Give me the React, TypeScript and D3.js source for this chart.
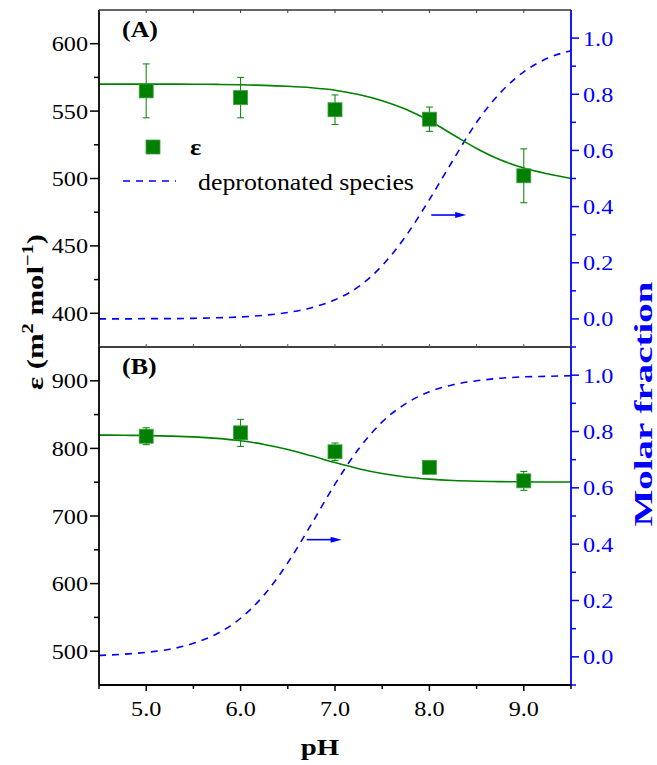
import React from "react";
import * as d3 from "d3";

// ---------- data ----------
const fitPH = [4.5, 4.75, 5.0, 5.25, 5.5, 5.75, 6.0, 6.25, 6.5, 6.75, 7.0, 7.25, 7.5, 7.75, 8.0, 8.25, 8.5, 8.75, 9.0, 9.25, 9.5];
const fitEpsA = [570.0, 570.0, 570.0, 570.0, 569.9, 569.8, 569.5, 569.1, 568.4, 567.3, 565.5, 562.3, 557.7, 551.3, 542.8, 532.5, 522.3, 513.9, 507.8, 503.5, 500.0];
const fracA = [0.0, 0.0, 0.001, 0.001, 0.002, 0.004, 0.007, 0.013, 0.023, 0.04, 0.068, 0.115, 0.19, 0.295, 0.425, 0.565, 0.7, 0.805, 0.88, 0.928, 0.955];
const fitEpsB = [819.7, 819.4, 819.0, 818.2, 817.0, 814.8, 811.3, 805.9, 798.4, 789.0, 779.0, 770.0, 762.8, 757.8, 754.6, 752.6, 751.5, 750.9, 750.5, 750.3, 750.2];
const fracB = [0.005, 0.009, 0.016, 0.027, 0.048, 0.082, 0.137, 0.22, 0.334, 0.471, 0.613, 0.738, 0.834, 0.899, 0.941, 0.966, 0.98, 0.989, 0.994, 0.996, 0.998];

const dataPH = [5, 6, 7, 8, 9];
const epsA = [565, 560, 551, 544, 502];
const errA = [20, 15, 11, 9, 20];
const epsB = [818, 823, 795, 772, 752];
const errB = [12.5, 20, 13, 0, 14];

const xTicks = [5, 6, 7, 8, 9];
const xMinor = [4.5, 5.5, 6.5, 7.5, 8.5, 9.5];
const yTicksA = [400, 450, 500, 550, 600];
const yMinorA = [425, 475, 525, 575];
const yTicksB = [500, 600, 700, 800, 900];
const yMinorB = [550, 650, 750, 850];
const fracTicks = [0, 0.2, 0.4, 0.6, 0.8, 1.0];
const fracMinor = [-0.1, 0.1, 0.3, 0.5, 0.7, 0.9];

// arrows: [pH start, pH end, fraction]
const arrowA = [8.02, 8.39, 0.37];
const arrowB = [6.7, 7.07, 0.416];

// ---------- layout ----------
const W = 657, H = 765;
const L = 99, R = 571, TOP = 10, MID = 347, BOT = 685;
const GREEN = "#008000";
const BLUE = "#0000ff";
const FONT = "Liberation Serif, Times New Roman, serif";
const TICK_FS = 22;
const TICK_SX = 1.1;

const x = d3.scaleLinear().domain([4.5, 9.5]).range([L, R]);
const yA = d3.scaleLinear().domain([375, 625]).range([MID, TOP]);
const fA = d3.scaleLinear().domain([-0.1, 1.1]).range([MID, TOP]);
const yB = d3.scaleLinear().domain([450, 950]).range([BOT, MID]);
const fB = d3.scaleLinear().domain([-0.1, 1.1]).range([BOT, MID]);

function T(props: any) {
  const { x: tx, y: ty, sx = 1, rot = 0, children, ...rest } = props;
  const tr = `translate(${tx},${ty})` + (rot ? ` rotate(${rot})` : "") + ` scale(${sx},1)`;
  return (
    <text transform={tr} fontFamily={FONT} {...rest}>
      {children}
    </text>
  );
}

function Panel({ yS, fS, fitEps, frac, eps, err, yTicks, yMinor, top, bottom, label, arrow }: any) {
  const lineEps = d3
    .line<number>()
    .x((_, i) => x(fitPH[i]))
    .y((d) => yS(d))
    .curve(d3.curveMonotoneX);
  const lineFrac = d3
    .line<number>()
    .x((_, i) => x(fitPH[i]))
    .y((d) => fS(d))
    .curve(d3.curveMonotoneX);
  const sq = 14;
  const ay = fS(arrow[2]);
  const ax0 = x(arrow[0]);
  const ax1 = x(arrow[1]);
  return (
    <g>
      <path d={lineFrac(frac) || ""} fill="none" stroke={BLUE} strokeWidth={1.6} strokeDasharray="7,6" />
      <path d={lineEps(fitEps) || ""} fill="none" stroke={GREEN} strokeWidth={1.6} />
      {/* arrow */}
      <line x1={ax0} x2={ax1 - 8} y1={ay} y2={ay} stroke={BLUE} strokeWidth={1.6} />
      <polygon points={`${ax1},${ay} ${ax1 - 11},${ay - 3} ${ax1 - 11},${ay + 3}`} fill={BLUE} />
      {/* error bars + markers */}
      {dataPH.map((p, i) => {
        const cx = x(p);
        const cy = yS(eps[i]);
        const e = err[i];
        return (
          <g key={i}>
            {e > 0 && (
              <g stroke={GREEN} strokeWidth={1}>
                <line x1={cx} x2={cx} y1={yS(eps[i] + e)} y2={yS(eps[i] - e)} />
                <line x1={cx - 3.5} x2={cx + 3.5} y1={yS(eps[i] + e)} y2={yS(eps[i] + e)} />
                <line x1={cx - 3.5} x2={cx + 3.5} y1={yS(eps[i] - e)} y2={yS(eps[i] - e)} />
              </g>
            )}
            <rect x={cx - sq / 2} y={cy - sq / 2} width={sq} height={sq} fill={GREEN} stroke="#40a040" strokeWidth={0.8} />
          </g>
        );
      })}
      {/* left axis */}
      <line x1={L} x2={L} y1={top} y2={bottom} stroke="#000" strokeWidth={1.8} />
      {yTicks.map((t: number) => (
        <g key={t}>
          <line x1={L - 9} x2={L} y1={yS(t)} y2={yS(t)} stroke="#000" strokeWidth={1.5} />
          <T x={L - 11} y={yS(t) + 7.5} sx={TICK_SX} fontSize={TICK_FS} textAnchor="end" fill="#000">
            {t}
          </T>
        </g>
      ))}
      {yMinor.map((t: number) => (
        <line key={t} x1={L - 5} x2={L} y1={yS(t)} y2={yS(t)} stroke="#000" strokeWidth={1.5} />
      ))}
      {/* right axis */}
      <line x1={R} x2={R} y1={top} y2={bottom} stroke={BLUE} strokeWidth={1.8} />
      {fracTicks.map((t: number) => (
        <g key={t}>
          <line x1={R} x2={R + 8} y1={fS(t)} y2={fS(t)} stroke={BLUE} strokeWidth={1.5} />
          <T x={R + 12} y={fS(t) + 7.5} sx={TICK_SX} fontSize={TICK_FS} textAnchor="start" fill={BLUE}>
            {t.toFixed(1)}
          </T>
        </g>
      ))}
      {fracMinor.map((t: number) => (
        <line key={t} x1={R} x2={R + 5} y1={fS(t)} y2={fS(t)} stroke={BLUE} strokeWidth={1.5} />
      ))}
      {/* panel label */}
      <T x={122} y={top + 27} sx={1.08} fontSize={24} fontWeight="bold" fill="#000">
        {label}
      </T>
    </g>
  );
}

export default function App() {
  return (
    <svg width={W} height={H} style={{ position: "absolute", left: 0, top: 0, background: "#fff" }}>
      <rect x={0} y={0} width={W} height={H} fill="#fff" />
      <Panel yS={yA} fS={fA} fitEps={fitEpsA} frac={fracA} eps={epsA} err={errA} yTicks={yTicksA} yMinor={yMinorA} top={TOP} bottom={MID} label="(A)" arrow={arrowA} />
      <Panel yS={yB} fS={fB} fitEps={fitEpsB} frac={fracB} eps={epsB} err={errB} yTicks={yTicksB} yMinor={yMinorB} top={MID} bottom={BOT} label="(B)" arrow={arrowB} />
      {/* top frame */}
      <line x1={L} x2={R} y1={TOP} y2={TOP} stroke="#333" strokeWidth={1.6} />
      {xTicks.concat(xMinor).map((t) => (
        <line key={"tt" + t} x1={x(t)} x2={x(t)} y1={TOP} y2={TOP + 3} stroke="#333" strokeWidth={1} />
      ))}
      {/* divider */}
      <line x1={L} x2={R} y1={MID} y2={MID} stroke="#000" strokeWidth={1.5} />
      {xTicks.concat(xMinor).map((t) => (
        <line key={"md" + t} x1={x(t)} x2={x(t)} y1={MID - 3} y2={MID} stroke="#555" strokeWidth={1} />
      ))}
      {/* bottom axis */}
      <line x1={L} x2={R} y1={BOT} y2={BOT} stroke="#000" strokeWidth={1.8} />
      {xTicks.map((t) => (
        <g key={"bx" + t}>
          <line x1={x(t)} x2={x(t)} y1={BOT} y2={BOT + 6} stroke="#000" strokeWidth={1.5} />
          <T x={x(t)} y={716} sx={TICK_SX} fontSize={TICK_FS} textAnchor="middle" fill="#000">
            {t.toFixed(1)}
          </T>
        </g>
      ))}
      {xMinor.map((t) => (
        <line key={"bm" + t} x1={x(t)} x2={x(t)} y1={BOT} y2={BOT + 4} stroke="#000" strokeWidth={1.5} />
      ))}
      {/* legend */}
      <rect x={146} y={140} width={14} height={14} fill={GREEN} stroke="#40a040" strokeWidth={0.8} />
      <T x={190} y={155} sx={1.1} fontSize={24} fontWeight="bold" fill="#000">ε</T>
      <line x1={123} x2={176} y1={181} y2={181} stroke={BLUE} strokeWidth={1.6} strokeDasharray="7,6" />
      <T x={198} y={190} sx={1.1} fontSize={23.5} fill="#000">deprotonated species</T>
      {/* axis titles */}
      <T x={320} y={755} sx={1.2} fontSize={24} fontWeight="bold" textAnchor="middle" fill="#000">pH</T>
      <T x={43} y={312} rot={-90} sx={1.28} fontSize={24} fontWeight="bold" textAnchor="middle" fill="#000">
        ε (m<tspan dy={-10} fontSize={16}>2</tspan>
        <tspan dy={10}> mol</tspan>
        <tspan dy={-10} fontSize={16}>−1</tspan>
        <tspan dy={10}>)</tspan>
      </T>
      <T x={652} y={404} rot={-90} sx={1.5} fontSize={26} fontWeight="bold" textAnchor="middle" fill={BLUE}>
        Molar fraction
      </T>
    </svg>
  );
}
